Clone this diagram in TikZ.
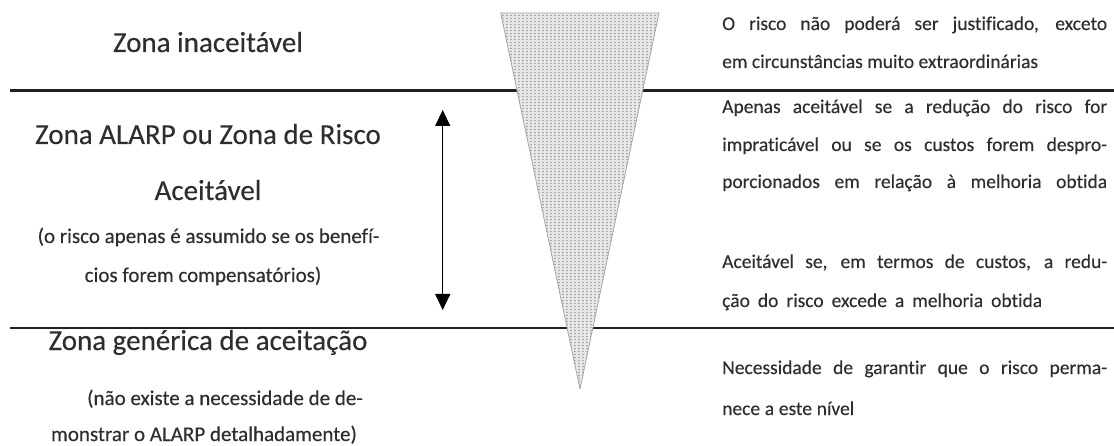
\documentclass[tikz,border=0pt]{standalone}
\usepackage{fontspec}
\setmainfont{Carlito}[Ligatures=NoCommon,FakeBold=0.3]
\usetikzlibrary{arrows.meta,patterns.meta}
\definecolor{txt}{HTML}{2E2E2E}
\definecolor{rule}{HTML}{231F20}
\tikzdeclarepattern{name=conedots,type=uncolored,bounding box={(0,0) and (4.4pt,3.4pt)},tile size={(4.4pt,3.4pt)},code={\fill (2.2pt,1.7pt) circle (0.95pt);}}
\tikzset{
  head/.style={font=\fontsize{29}{34}\selectfont,text=txt,inner sep=0pt,anchor=base},
  sub/.style={font=\fontsize{21}{25}\selectfont,text=txt,inner sep=0pt,anchor=base},
  desc/.style={font=\fontsize{19.5}{23}\selectfont,text=txt,inner sep=0pt,anchor=base west},
  zoneline/.style={draw=rule,line width=2.2pt},
  dblarrow/.style={draw=black,line width=1.3pt,{Triangle[width=15pt,length=16pt]}-{Triangle[width=15pt,length=16pt]}}
}
\newcommand{\jl}[2][385pt]{\makebox[#1][s]{#2}}
\begin{document}
\begin{tikzpicture}[x=1pt,y=-1pt]
\useasboundingbox (0,0) rectangle (1114,446);
% zone lines
\coordinate (l1a) at (10,90.5);
\coordinate (l1b) at (1114,90.5);
\coordinate (l2a) at (10,328);
\coordinate (l2b) at (1114,328);
\draw[zoneline] (l1a) -- (l1b);
\draw[zoneline] (l2a) -- (l2b);
% cone
\coordinate (cL) at (500.7,13);
\coordinate (cR) at (659,13);
\coordinate (cA) at (580,389);
\fill[gray!18] (cL) -- (cR) -- (cA) -- cycle;
\fill[pattern=conedots,pattern color=gray!85] (cL) -- (cR) -- (cA) -- cycle;
\draw[gray!70,line width=0.8pt,line join=round] (cL) -- (cR) -- (cA) -- cycle;
% arrow
\coordinate (at) at (442.7,110);
\coordinate (ab) at (442.7,310);
\draw[dblarrow] (at) -- (ab);
% left texts
\node[head] (z1) at (208,52) {Zona inaceitável};
\node[head] (z2a) at (208,144) {Zona ALARP ou Zona de Risco};
\node[head] (z2b) at (208,200) {Aceitável};
\node[sub] (s2a) at (208.5,243) {(o risco apenas é assumido se os benefí-};
\node[sub] (s2b) at (203,282) {cios forem compensatórios)};
\node[head] (z3) at (208,350) {Zona genérica de aceitação};
\node[sub] (s3a) at (225,405) {(não existe a necessidade de de-};
\node[sub] (s3b) at (204,441) {monstrar o ALARP detalhadamente)};
% right texts
\node[desc] (d1a) at (722,30) {\jl{O risco não poderá ser justificado, exceto}};
\node[desc] (d1b) at (722,68) {em circunstâncias muito extraordinárias};
\node[desc] (d2a) at (722,113) {\jl{Apenas aceitável se a redução do risco for}};
\node[desc] (d2b) at (722,151) {\jl{impraticável ou se os custos forem despro-}};
\node[desc] (d2c) at (722,188) {\jl{porcionados em relação à melhoria obtida}};
\node[desc] (d3a) at (722,268) {\jl{Aceitável se, em termos de custos, a redu-}};
\node[desc] (d3b) at (722,307) {\jl[320pt]{ção do risco excede a melhoria obtida}};
\node[desc] (d4a) at (722,374) {\jl{Necessidade de garantir que o risco perma-}};
\node[desc] (d4b) at (722,415) {\jl[132pt]{nece a este nível}};
\end{tikzpicture}
\end{document}
